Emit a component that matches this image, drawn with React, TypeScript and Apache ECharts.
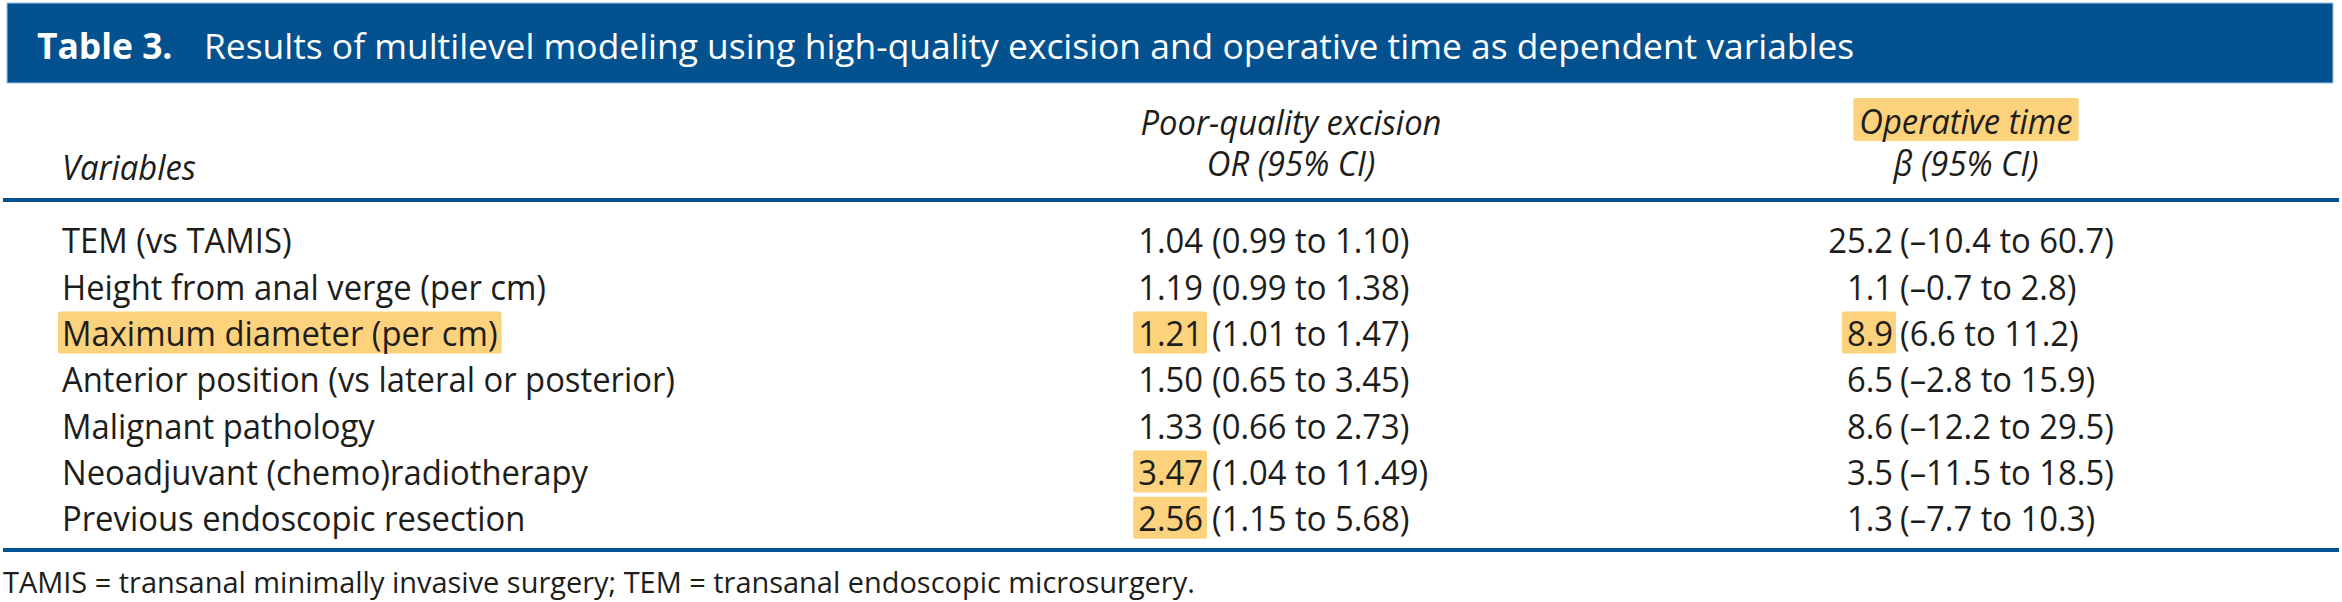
import React, { useEffect, useRef } from "react";
import * as echarts from "echarts";

const titleBold = "Table 3.";
const titleRest = "Results of multilevel modeling using high-quality excision and operative time as dependent variables";
const headVariables = "Variables";
const headOR = ["Poor-quality excision", "OR (95% CI)"];
const headBeta = ["Operative time", "β (95% CI)"];
const footnote = "TAMIS = transanal minimally invasive surgery; TEM = transanal endoscopic microsurgery.";

const rowLabels = [
  "TEM (vs TAMIS)",
  "Height from anal verge (per cm)",
  "Maximum diameter (per cm)",
  "Anterior position (vs lateral or posterior)",
  "Malignant pathology",
  "Neoadjuvant (chemo)radiotherapy",
  "Previous endoscopic resection",
];
const orEst = ["1.04", "1.19", "1.21", "1.50", "1.33", "3.47", "2.56"];
const orCI = ["(0.99 to 1.10)", "(0.99 to 1.38)", "(1.01 to 1.47)", "(0.65 to 3.45)", "(0.66 to 2.73)", "(1.04 to 11.49)", "(1.15 to 5.68)"];
const betaEst = ["25.2", "1.1", "8.9", "6.5", "8.6", "3.5", "1.3"];
const betaCI = ["(–10.4 to 60.7)", "(–0.7 to 2.8)", "(6.6 to 11.2)", "(–2.8 to 15.9)", "(–12.2 to 29.5)", "(–11.5 to 18.5)", "(–7.7 to 10.3)"];
const hlLabel = [false, false, true, false, false, false, false];
const hlOR = [false, false, true, false, false, true, true];
const hlBeta = [false, false, true, false, false, false, false];

const FONT = '"Open Sans", "Noto Sans", sans-serif';
const FS = 35;
const BLUE = "#03528F";
const INK = "#1d1d1b";
const HL = "#FDD27D";

export default function App() {
  const ref = useRef<HTMLDivElement>(null);
  useEffect(() => {
    if (!ref.current) return;
    const canvas = document.createElement("canvas");
    const ctx = canvas.getContext("2d")!;
    const measure = (t: string, size: number, weight = "normal", style = "normal") => {
      ctx.font = `${style} ${weight} ${size}px ${FONT}`;
      return ctx.measureText(t).width;
    };
    const sxTitle = 1650 / measure(titleRest, FS);
    const sxBody = 613 / measure(rowLabels[3], FS);
    const FSF = 30;
    const sxFoot = 1192 / measure(footnote, FSF);

    const txt = (
      text: string,
      x: number,
      y: number,
      o: { align?: string; fill?: string; size?: number; weight?: string; italic?: boolean; sx?: number } = {}
    ) => ({
      type: "text",
      x,
      y,
      scaleX: o.sx ?? sxBody,
      silent: true,
      style: {
        text,
        x: 0,
        y: 0,
        fill: o.fill ?? INK,
        fontSize: o.size ?? FS,
        fontFamily: FONT,
        fontWeight: o.weight ?? "normal",
        fontStyle: o.italic ? "italic" : "normal",
        align: o.align ?? "left",
        textAlign: o.align ?? "left",
        verticalAlign: "middle",
        textVerticalAlign: "middle",
      },
    });
    const box = (x: number, y: number, w: number, h: number) => ({
      type: "rect",
      silent: true,
      shape: { x, y, width: w, height: h, r: 2 },
      style: { fill: HL },
    });

    const opWidth = measure(headBeta[0], FS, "normal", "italic") * sxBody;
    const graphic: any[] = [
      {
        type: "rect",
        shape: { x: 7, y: 3, width: 2326, height: 80 },
        style: { fill: BLUE, stroke: "#9DC3E3", lineWidth: 1 },
        silent: true,
      },
      txt(titleBold, 37, 45, { fill: "#ffffff", weight: "bold", sx: sxTitle }),
      txt(titleRest, 204, 45, { fill: "#ffffff", sx: sxTitle }),
      box(1966 - opWidth / 2 - 6, 98, opWidth + 12, 43),
      txt(headVariables, 62, 167, { italic: true }),
      txt(headOR[0], 1291, 122, { italic: true, align: "center" }),
      txt(headOR[1], 1291, 163, { italic: true, align: "center" }),
      txt(headBeta[0], 1966, 121, { italic: true, align: "center" }),
      txt(headBeta[1], 1966, 163, { italic: true, align: "center" }),
      {
        type: "line",
        silent: true,
        shape: { x1: 3, y1: 200, x2: 2339, y2: 200 },
        style: { stroke: BLUE, lineWidth: 4 },
      },
      {
        type: "line",
        silent: true,
        shape: { x1: 3, y1: 550, x2: 2339, y2: 550 },
        style: { stroke: BLUE, lineWidth: 4 },
      },
      txt(footnote, 3, 582, { size: FSF, sx: sxFoot }),
    ];

    const chart = echarts.init(ref.current, undefined, { renderer: "svg" });
    chart.setOption({
      animation: false,
      backgroundColor: "#ffffff",
      grid: { left: 0, right: 0, top: 216.85, height: 324.1 },
      xAxis: { type: "value", min: 0, max: 2342, show: false },
      yAxis: { type: "category", data: rowLabels, inverse: true, show: false },
      graphic,
      series: [
        {
          type: "custom",
          clip: false,
          silent: true,
          data: rowLabels.map((_, i) => [0, i]),
          renderItem: (params: any, api: any) => {
            const i = api.value(1);
            const y = api.coord([0, i])[1];
            const children: any[] = [];
            const H = 42;
            if (hlLabel[i]) {
              const w = measure(rowLabels[i], FS) * sxBody;
              children.push(box(58, y - 21, w + 8, H));
            }
            if (hlOR[i]) {
              const w = measure(orEst[i], FS) * sxBody;
              children.push(box(1203 - w - 5, y - 21, w + 9, H));
            }
            if (hlBeta[i]) {
              const w = measure(betaEst[i], FS) * sxBody;
              children.push(box(1893 - w - 5, y - 21, w + 8, H));
            }
            children.push(txt(rowLabels[i], 62, y));
            children.push(txt(orEst[i], 1203, y, { align: "right" }));
            children.push(txt(orCI[i], 1212, y));
            children.push(txt(betaEst[i], 1893, y, { align: "right" }));
            children.push(txt(betaCI[i], 1900, y));
            return { type: "group", children };
          },
        },
      ],
    });
    return () => chart.dispose();
  }, []);
  return (
    <div
      ref={ref}
      style={{ position: "absolute", left: 0, top: 0, width: 2342, height: 602, background: "#fff" }}
    />
  );
}
